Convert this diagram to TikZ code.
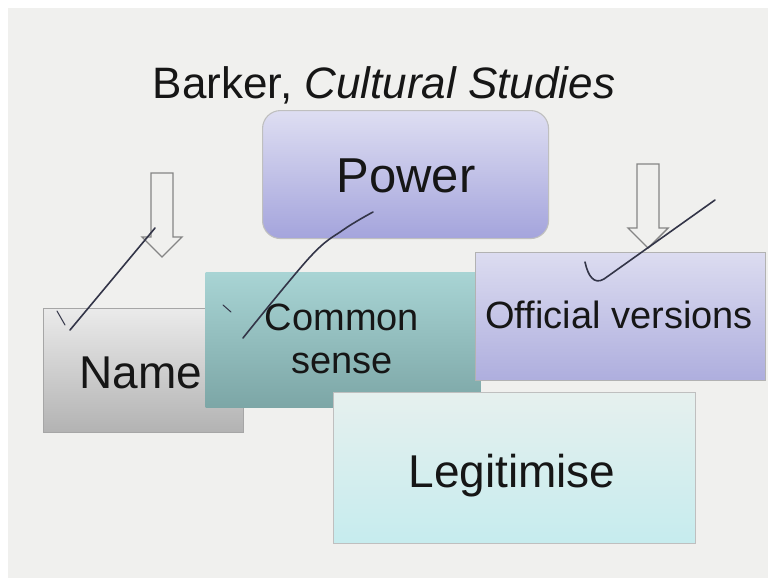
\documentclass[tikz,border=0pt]{standalone}
\usepackage{fontspec}
\setmainfont{Liberation Sans}
\definecolor{slide}{HTML}{F0F0EE}
\definecolor{ink}{HTML}{161616}
\definecolor{pen}{HTML}{333548}
\definecolor{arrowgray}{HTML}{858585}
\begin{document}
\begin{tikzpicture}[x=1pt,y=-1pt,
  box/.style={draw=#1, line width=1.1pt, inner sep=0pt, anchor=north west},
  lbl/.style={anchor=base, text=ink, inner sep=0pt},
  penstroke/.style={draw=pen, line width=1.6pt, line cap=round, line join=round},
  downarrow/.pic={\draw[arrowgray, line width=1.4pt, fill=slide]
      (-11,0) -- (11,0) -- (11,64) -- (20,64) -- (0,84) -- (-20,64) -- (-11,64) -- cycle;}]
% slide background
\fill[white] (0,0) rectangle (768,578);
\fill[slide] (8,8) rectangle (768,578);
\useasboundingbox (0,0) rectangle (768,578);

% title
\node[lbl, font=\fontsize{44}{50}\selectfont] (title) at (384,98) {Barker, \textit{Cultural Studies}};

% boxes, back to front
\node[box=gray!70, minimum width=200pt, minimum height=124pt,
      top color=black!8, bottom color=black!30] (namebox) at (43,308) {};
\node[lbl, font=\fontsize{46}{50}\selectfont] (nametext) at (141,388) {Name};

\node[box=black!25, rounded corners=18pt, minimum width=286pt, minimum height=128pt,
      top color={rgb,255:red,222;green,222;blue,242}, bottom color={rgb,255:red,164;green,164;blue,220}] (powerbox) at (262,110) {};
\node[lbl, font=\fontsize{49}{54}\selectfont] (powertext) at (406,192) {Power};

\node[box=slide, draw opacity=0, minimum width=275pt, minimum height=135pt,
      top color={rgb,255:red,168;green,212;blue,212}, bottom color={rgb,255:red,124;green,166;blue,166}] (commonbox) at (205,272) {};
\node[lbl, font=\fontsize{38}{43}\selectfont] (commontext) at (342,330) {Common};
\node[lbl, font=\fontsize{38}{43}\selectfont] (sensetext) at (342,373) {sense};

\node[box=black!30, minimum width=290pt, minimum height=128pt,
      top color={rgb,255:red,220;green,220;blue,240}, bottom color={rgb,255:red,174;green,174;blue,222}] (officialbox) at (475,252) {};
\node[lbl, font=\fontsize{38}{43}\selectfont] (officialtext) at (619,328) {Official versions};

\node[box=black!25, minimum width=362pt, minimum height=151pt,
      top color={rgb,255:red,230;green,240;blue,238}, bottom color={rgb,255:red,198;green,236;blue,238}] (legitbox) at (333,392) {};
\node[lbl, font=\fontsize{46}{50}\selectfont] (legittext) at (512,487) {Legitimise};

% block arrows
\pic at (162,173) {downarrow};
\pic at (648,164) {downarrow};

% hand-drawn pen marks
\draw[penstroke] (70,330) -- (155,228);
\draw[penstroke, line width=1pt] (57,311) -- (65,325);
\draw[penstroke] plot[smooth, tension=0.6] coordinates {(243,338) (310,257) (343,230) (373,212)};
\draw[penstroke, line width=1pt] (223,305) -- (231,312);
\draw[penstroke] (585,262) .. controls (588,276) and (594,285) .. (604,279) -- (715,200);
\end{tikzpicture}
\end{document}
